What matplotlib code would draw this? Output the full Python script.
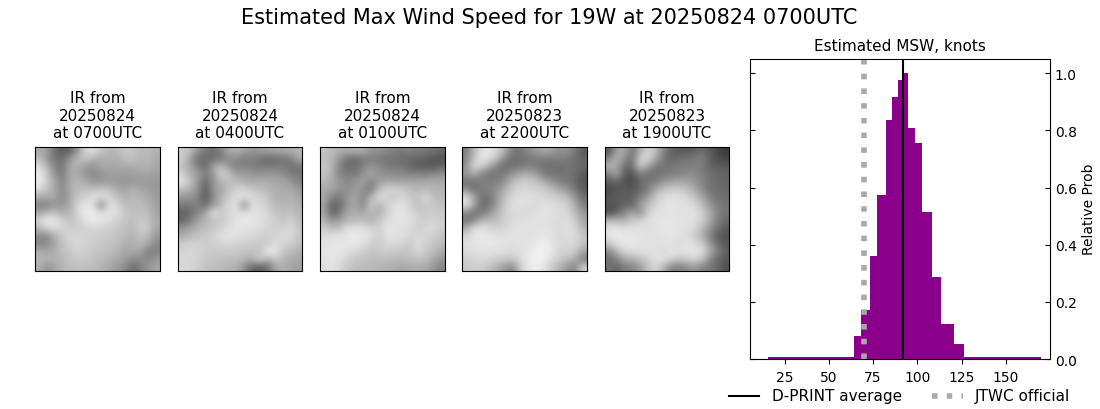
import numpy as np
import matplotlib
matplotlib.use("Agg")
import matplotlib.pyplot as plt
from matplotlib.transforms import ScaledTranslation

suptitle = "Estimated Max Wind Speed for 19W at 20250824 0700UTC"
panel_titles = ["IR from\n20250824\nat 0700UTC", "IR from\n20250824\nat 0400UTC", "IR from\n20250824\nat 0100UTC",
                "IR from\n20250823\nat 2200UTC", "IR from\n20250823\nat 1900UTC"]

ir_1 = [[170,165,110,90,100,150,215,225,195,180,185,200,195,185,190,175],
        [190,150,120,110,150,190,200,175,170,180,175,190,195,180,185,170],
        [225,185,130,115,175,175,150,150,170,165,165,170,170,175,180,165],
        [235,200,150,120,170,170,150,135,150,160,160,155,160,165,165,160],
        [240,205,170,130,175,180,170,150,150,155,150,150,150,150,155,150],
        [220,190,170,135,175,190,195,195,205,195,170,165,180,165,160,150],
        [170,170,170,135,170,195,210,225,225,215,195,175,185,180,170,155],
        [130,125,150,150,175,215,230,225,125,225,215,190,185,190,180,160],
        [165,190,190,175,180,215,235,235,225,230,220,200,190,190,190,160],
        [215,235,235,210,195,205,225,235,230,220,210,195,190,205,195,170],
        [180,210,215,215,205,205,210,215,210,205,200,190,185,205,200,165],
        [140,130,175,200,215,215,210,205,205,200,195,190,175,195,185,150],
        [130,140,165,195,210,215,210,205,200,195,190,175,175,185,170,135],
        [175,165,175,190,200,210,205,195,195,190,180,165,170,165,120,130],
        [185,180,175,185,195,200,200,195,185,180,170,160,140,140,140,155],
        [175,145,165,180,190,190,190,185,180,165,155,140,105,130,150,165]]
ir_2 = [[200,200,150,120,110,130,170,180,165,150,160,165,170,170,175,185],
        [210,160,110,110,105,120,140,140,120,130,115,100,110,115,125,170],
        [190,170,130,100,170,190,150,125,135,125,120,125,120,125,110,120],
        [215,175,165,130,145,215,195,160,160,150,150,150,155,140,125,120],
        [230,200,150,100,150,175,195,190,175,170,175,175,165,170,150,130],
        [190,170,150,90,150,170,190,210,215,200,190,185,175,170,170,150],
        [150,150,135,85,140,175,205,225,225,220,210,195,175,175,180,165],
        [125,120,130,110,150,190,215,225,130,225,215,205,185,180,185,175],
        [95,105,135,165,230,200,215,225,225,225,225,215,195,190,195,180],
        [100,125,160,180,190,200,215,225,235,230,225,215,205,195,210,185],
        [150,165,180,190,200,210,220,230,225,225,220,210,205,210,220,195],
        [170,185,195,200,210,225,230,225,220,215,210,205,210,220,215,195],
        [205,210,210,205,205,210,215,210,205,205,200,200,225,210,205,190],
        [210,215,210,205,200,200,200,200,195,195,190,240,230,195,190,175],
        [215,215,210,200,195,195,190,190,185,170,215,170,205,180,170,165],
        [215,215,205,195,190,185,180,175,140,100,90,110,165,175,165,160]]
ir_3 = [[195,190,175,175,180,175,150,150,140,130,120,135,125,120,120,105],
        [195,180,150,115,105,120,125,120,115,115,105,105,100,95,85,80],
        [200,185,130,105,110,130,150,140,125,120,120,105,90,95,85,105],
        [195,175,130,130,120,145,170,150,140,140,140,130,135,130,140,145],
        [185,170,155,135,150,165,130,155,170,165,165,170,165,170,175,170],
        [165,165,145,140,160,145,115,190,215,215,205,190,185,190,175,180],
        [175,130,125,150,170,130,180,225,210,195,215,205,190,225,190,185],
        [165,95,105,150,170,130,205,175,205,225,225,210,190,200,200,190],
        [170,95,125,170,175,165,190,170,205,225,230,220,205,200,205,200],
        [180,150,160,180,185,190,175,195,220,225,225,225,210,205,210,205],
        [205,190,195,225,225,225,215,205,230,225,225,220,205,215,220,205],
        [220,225,225,230,235,230,225,200,225,225,225,210,215,215,205,195],
        [225,230,230,230,230,225,205,205,215,215,210,200,225,205,200,185],
        [230,230,230,225,215,205,195,200,205,200,195,195,215,200,190,170],
        [225,230,225,210,195,195,190,190,190,185,185,190,195,190,170,150],
        [220,225,215,200,190,185,185,180,180,170,165,170,170,170,150,130]]
ir_4 = [[120,180,225,230,215,180,120,120,140,160,170,165,140,150,120,90],
        [130,195,230,225,190,130,110,110,120,120,125,120,130,120,110,100],
        [140,220,205,170,125,110,115,120,130,125,110,115,110,115,115,105],
        [150,170,135,110,120,125,150,170,175,160,125,115,115,120,110,85],
        [110,115,125,130,125,150,190,205,205,195,175,150,130,120,105,85],
        [150,110,130,130,150,175,205,215,215,210,205,190,170,150,120,90],
        [225,175,110,115,150,195,215,225,225,220,215,210,200,190,150,110],
        [230,170,105,120,160,205,220,225,220,215,225,225,215,210,170,125],
        [135,115,120,145,180,210,220,215,215,225,225,225,220,215,190,150],
        [115,130,185,190,190,205,215,225,225,225,225,220,215,225,205,160],
        [170,225,225,215,210,215,225,225,225,225,225,225,215,225,215,180],
        [215,225,235,230,225,225,225,225,225,225,230,225,215,220,220,195],
        [225,225,230,230,230,225,225,225,225,235,240,230,215,215,215,190],
        [215,225,225,225,225,220,215,225,230,240,240,230,210,210,205,160],
        [205,215,215,215,205,200,200,215,235,240,240,220,205,190,170,120],
        [200,205,205,190,175,150,130,205,230,240,225,200,175,150,130,215]]
ir_5 = [[85,160,175,110,170,215,190,130,100,90,85,95,105,90,70,55],
        [130,190,140,110,215,215,170,120,100,110,120,120,135,90,80,70],
        [185,165,110,110,210,160,120,115,120,125,125,130,120,100,95,90],
        [120,175,90,80,120,110,110,120,125,130,140,140,125,115,105,100],
        [90,100,80,75,110,120,130,150,165,170,165,150,130,115,105,100],
        [70,85,95,85,100,125,170,195,205,205,190,170,140,115,110,105],
        [85,100,90,100,130,160,200,220,225,225,215,195,165,130,115,110],
        [85,80,105,95,160,190,215,225,230,225,225,215,190,150,125,115],
        [75,100,140,170,135,205,225,225,225,225,225,225,205,170,130,115],
        [190,185,175,200,215,225,225,230,230,225,225,225,205,165,125,105],
        [225,230,225,225,225,220,225,230,230,225,225,215,185,145,110,90],
        [225,235,230,230,225,225,225,225,230,225,220,200,175,125,90,80],
        [200,225,230,230,225,225,225,225,225,215,230,220,205,150,110,85],
        [130,180,215,220,225,225,225,215,230,225,225,230,220,175,125,95],
        [110,130,165,175,190,205,225,230,215,190,210,215,195,130,105,85],
        [115,100,125,130,150,195,215,175,130,125,135,150,125,120,100,80]]
ir_images = [ir_1, ir_2, ir_3, ir_4, ir_5]

bin_edges = [15.6, 64.0, 68.0, 73.1, 77.0, 82.1, 85.7, 88.9, 91.7, 94.6, 98.5, 102.7, 108.1, 113.2, 120.6, 126.2, 169.8]
rel_prob = [0.008, 0.082, 0.171, 0.361, 0.575, 0.837, 0.917, 0.977, 1.0, 0.809, 0.756, 0.515, 0.288, 0.124, 0.054, 0.008]
dprint_avg = 91.7
jtwc_official = 70
x_ticks = [25, 50, 75, 100, 125, 150]

W, H = 1100, 409
fig = plt.figure(figsize=(W / 100, H / 100), dpi=100)

def px_axes(left, top, right, bottom):
    return fig.add_axes([left / W, 1 - bottom / H, (right - left) / W, (bottom - top) / H])

fig.text(549.5 / W, 1 - 18 / H, suptitle, ha="center", va="center", fontsize=15)

panel_x = [(35, 159.7), (177.7, 302.3), (320, 444.7), (462.2, 586.8), (604.7, 729.2)]
for (l, r), grid, title in zip(panel_x, ir_images, panel_titles):
    ax = px_axes(l, 147.3, r, 271)
    ax.imshow(np.array(grid, dtype=float), cmap="gray", vmin=0, vmax=255,
              interpolation="bicubic", aspect="auto")
    ax.set_xticks([])
    ax.set_yticks([])
    ax.set_title(title, fontsize=11, pad=6.7)

ax = px_axes(750, 59, 1050, 359)
ax.stairs(rel_prob, bin_edges, fill=True, color="darkmagenta", linewidth=0)
l1 = ax.axvline(dprint_avg, color="black", linewidth=1.5, label="D-PRINT average")
l2 = ax.axvline(jtwc_official - 0.3, color="darkgray", linewidth=4, linestyle=":", label="JTWC official")
ax.set_xlim(5.5, 175)
ax.set_ylim(0, 1.05)
ax.set_xticks(x_ticks)
ax.tick_params(axis="x", labelsize=10, pad=5)
ax.tick_params(axis="y", direction="in", left=True, right=True, labelleft=False, labelright=True, labelsize=10)
ax.yaxis.set_label_position("right")
ax.set_ylabel("Relative Prob", fontsize=10)
ax.set_title("Estimated MSW, knots", fontsize=11)
ax.legend(handles=[l1, l2], loc="center", bbox_to_anchor=(0.4985, -0.125), ncol=2, frameon=False, fontsize=11,
          borderaxespad=0)
for lab in ax.get_yticklabels():
    lab.set_transform(lab.get_transform() + ScaledTranslation(0, -1 / 100, fig.dpi_scale_trans))

fig.savefig("out.png", dpi=100)
